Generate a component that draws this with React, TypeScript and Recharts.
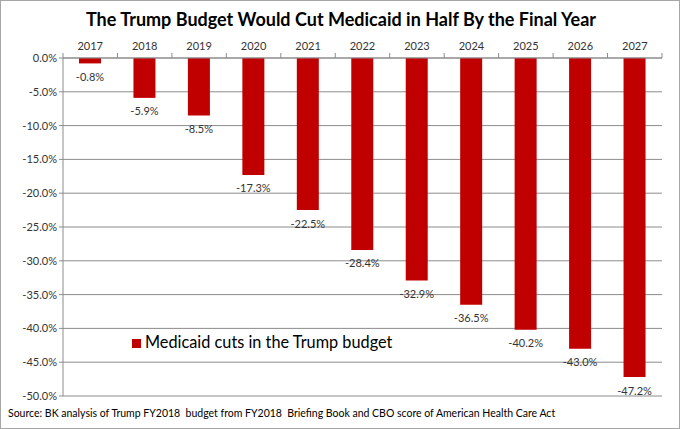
import React from "react";
import {
  BarChart,
  Bar,
  XAxis,
  YAxis,
  CartesianGrid,
  Legend,
  LabelList,
} from "recharts";

const years = ["2017", "2018", "2019", "2020", "2021", "2022", "2023", "2024", "2025", "2026", "2027"];
const cuts = [-0.8, -5.9, -8.5, -17.3, -22.5, -28.4, -32.9, -36.5, -40.2, -43.0, -47.2];
const yTicks = [0, -5, -10, -15, -20, -25, -30, -35, -40, -45, -50];

const W = 680;
const H = 429;
const PLOT_LEFT = 63;
const PLOT_RIGHT = 662;
const PLOT_TOP = 58;
const BAND = (PLOT_RIGHT - PLOT_LEFT) / years.length;
const FONT = "Lato, 'Open Sans', sans-serif";
const RED = "#C00000";
const GRID = "#8c8c8c";

const data = years.map((y, i) => ({ year: y, cut: cuts[i] }));

// year labels on top, with Excel-style ticks between categories
function YearTick(props: any) {
  const { x, payload, index } = props;
  return (
    <g>
      <text x={x} y={45} textAnchor="middle" dominantBaseline="central" fontSize={11} fill="#333" fontFamily={FONT}>
        {payload.value}
      </text>
      <line x1={x - BAND / 2} x2={x - BAND / 2} y1={PLOT_TOP} y2={PLOT_TOP - 5} stroke={GRID} />
      {index === years.length - 1 && (
        <line x1={x + BAND / 2} x2={x + BAND / 2} y1={PLOT_TOP} y2={PLOT_TOP - 5} stroke={GRID} />
      )}
    </g>
  );
}

function BarLabel(props: any) {
  const { x, y, width, height, value } = props;
  const bottom = Math.max(y, y + height);
  return (
    <text x={x + width / 2} y={bottom + 13} textAnchor="middle" dominantBaseline="central" fontSize={11} fill="#333" fontFamily={FONT}>
      {Number(value).toFixed(1)}%
    </text>
  );
}

export default function App() {
  return (
    <div
      style={{
        position: "absolute",
        left: 0,
        top: 0,
        width: W,
        height: H,
        boxSizing: "border-box",
        border: "1px solid #a6a6a6",
        background: "#fff",
        fontFamily: FONT,
      }}
    >
      <div
        style={{
          position: "absolute",
          top: 7,
          left: 0,
          width: W,
          textAlign: "center",
          fontSize: 18,
          fontWeight: 700,
          color: "#000",
        }}
      >
        The Trump Budget Would Cut Medicaid in Half By the Final Year
      </div>
      <div style={{ position: "absolute", left: -1, top: -1 }}>
        <BarChart
          width={W}
          height={H}
          data={data}
          margin={{ top: 28, right: W - PLOT_RIGHT, bottom: 33, left: 0 }}
        >
          <CartesianGrid vertical={false} stroke={GRID} />
          <XAxis
            dataKey="year"
            orientation="top"
            height={30}
            axisLine={{ stroke: GRID }}
            tickLine={false}
            tick={<YearTick />}
            interval={0}
          />
          <YAxis
            domain={[-50, 0]}
            ticks={yTicks}
            width={PLOT_LEFT}
            axisLine={{ stroke: GRID }}
            tickLine={{ stroke: GRID }}
            tickSize={4}
            tick={{ fontSize: 11, fill: "#333", fontFamily: FONT }}
            tickFormatter={(v: number) => `${v.toFixed(1)}%`}
            interval={0}
          />
          <Legend
            layout="horizontal"
            verticalAlign="middle"
            align="center"
            iconType="square"
            iconSize={9}
            wrapperStyle={{ left: 132, top: 332, width: "auto" }}
            formatter={(v: string) => (
              <span style={{ color: "#000", fontSize: 16.3, fontFamily: FONT }}>{v}</span>
            )}
          />
          <Bar
            dataKey="cut"
            name="Medicaid cuts in the Trump budget"
            fill={RED}
            barSize={22}
            isAnimationActive={false}
          >
            <LabelList dataKey="cut" content={<BarLabel />} />
          </Bar>
        </BarChart>
      </div>
      <div
        style={{
          position: "absolute",
          left: 7,
          top: 406,
          fontSize: 10.5,
          color: "#000",
          whiteSpace: "nowrap",
        }}
      >
        Source: BK analysis of Trump FY2018&nbsp; budget from FY2018&nbsp; Briefing Book and CBO score of American Health Care Act
      </div>
    </div>
  );
}
